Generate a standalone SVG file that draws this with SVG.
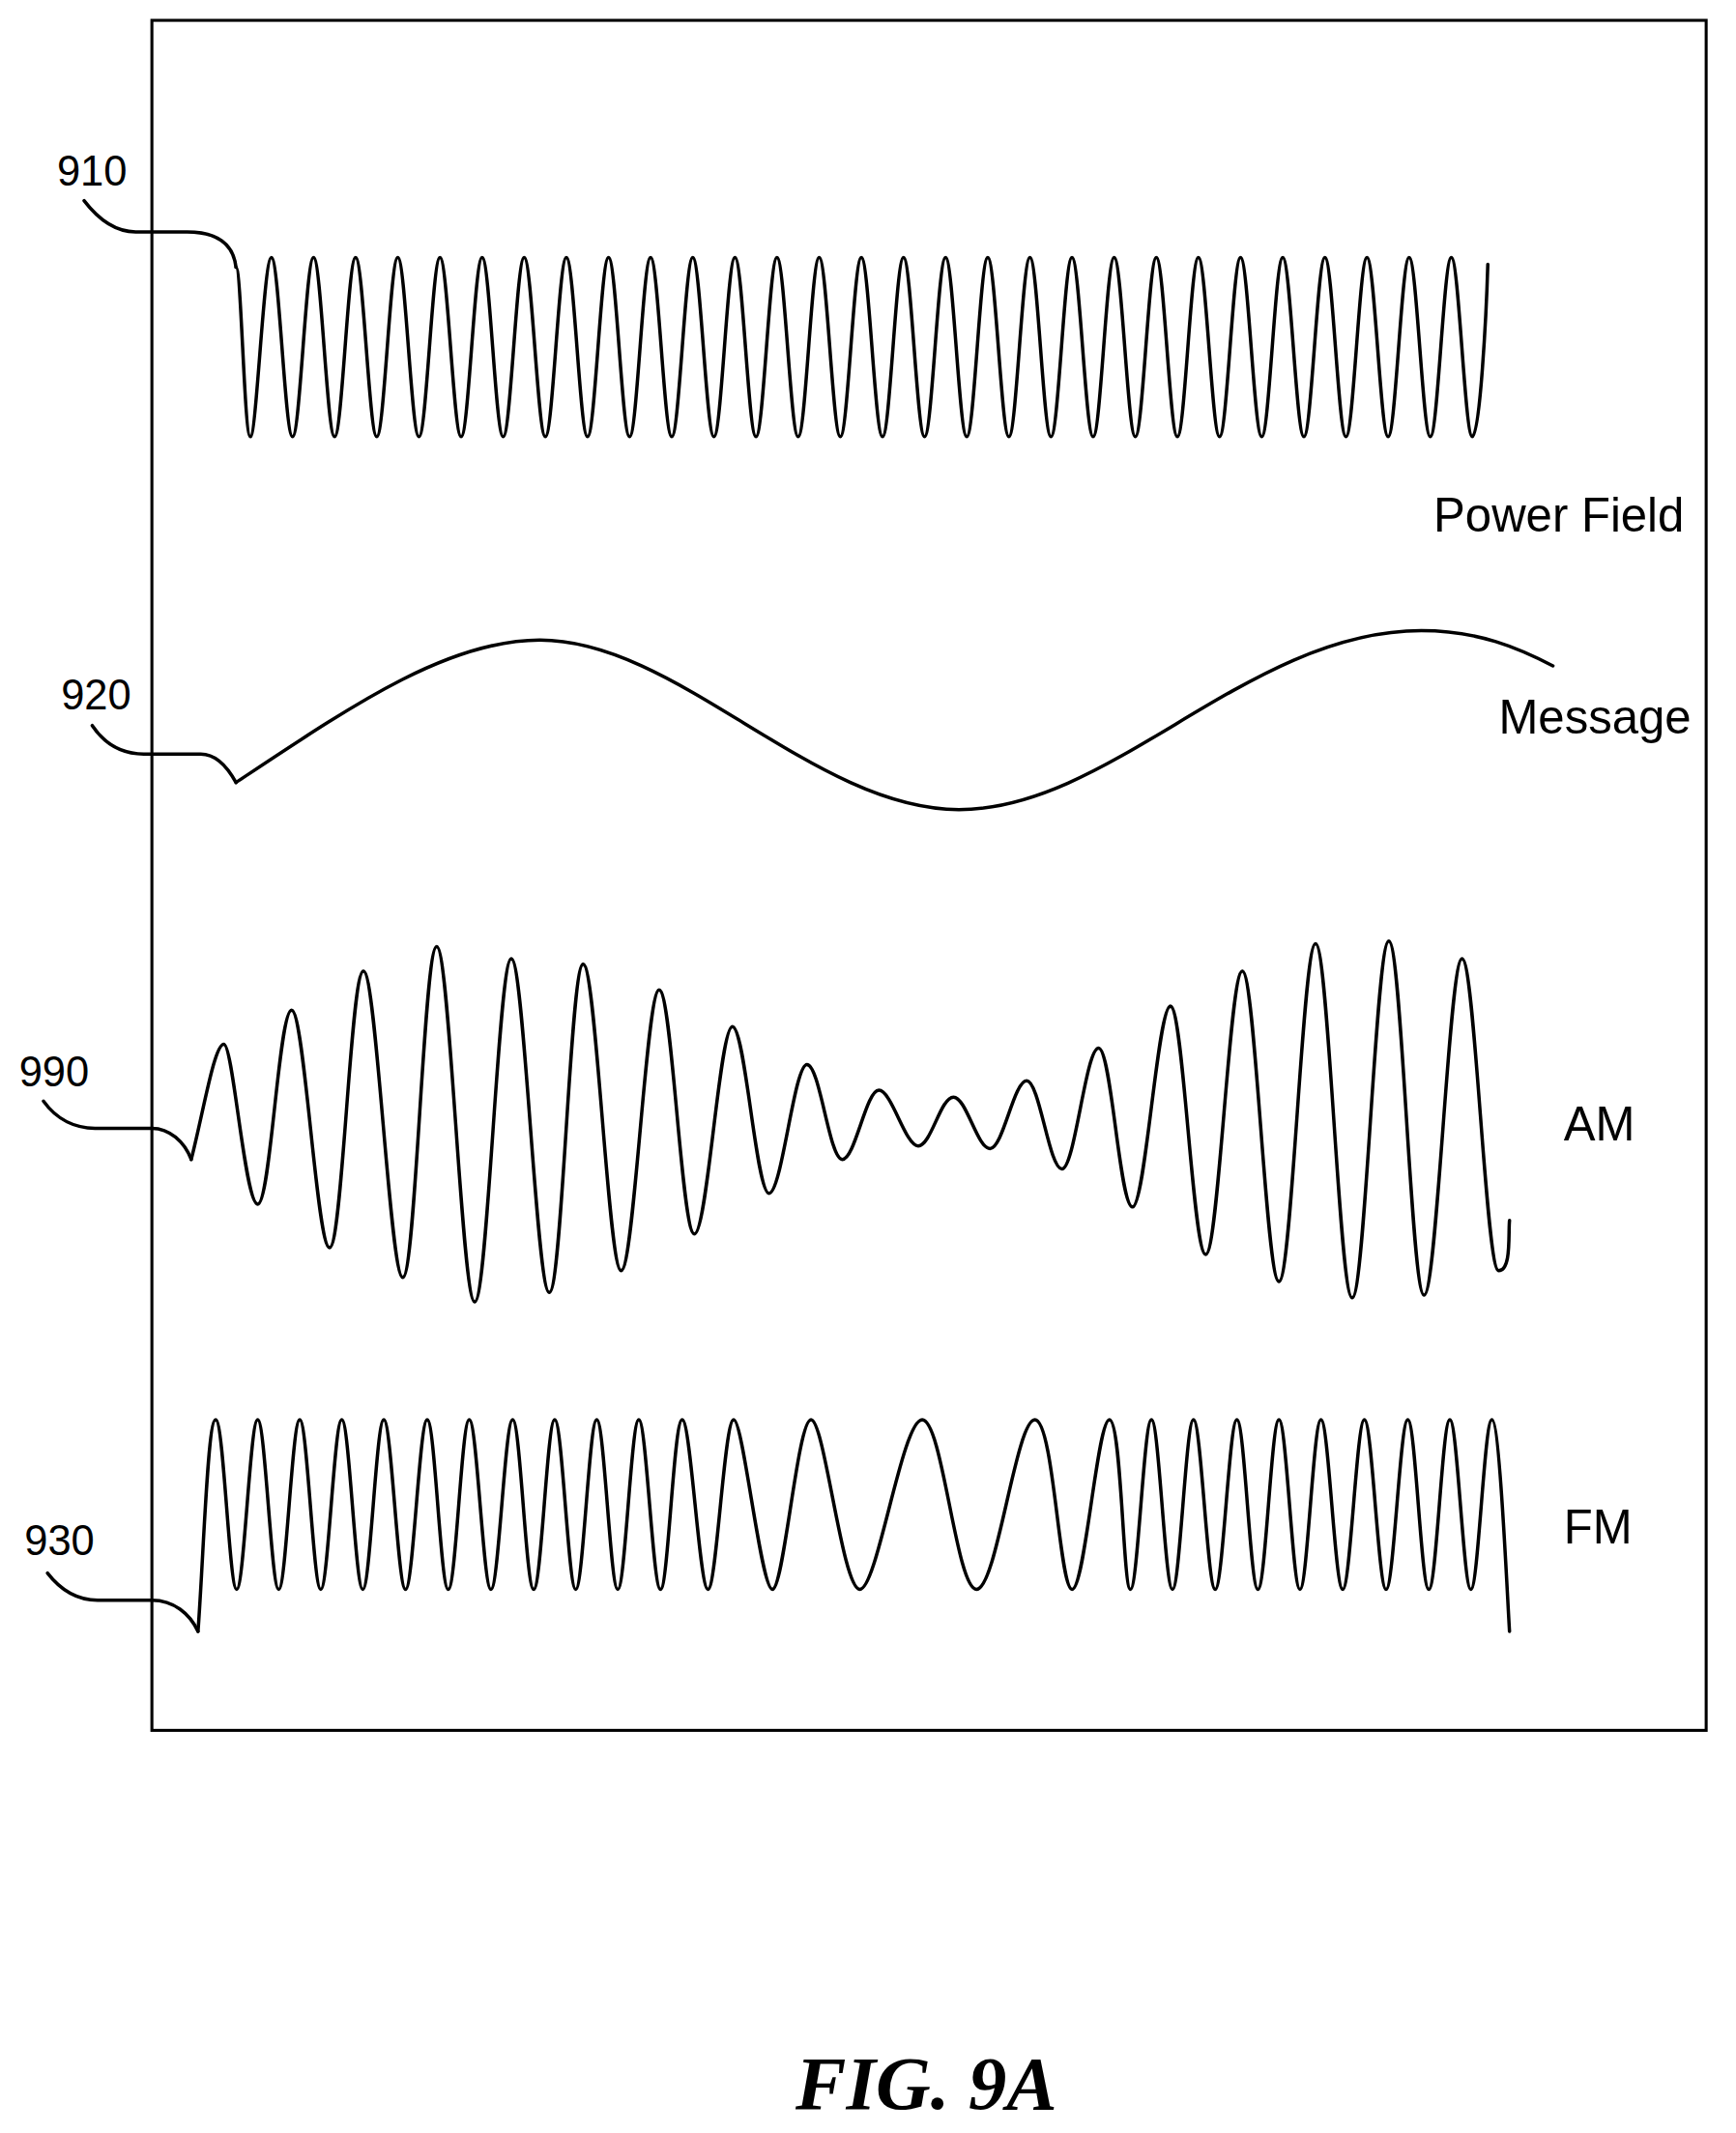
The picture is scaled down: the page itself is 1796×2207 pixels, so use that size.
<svg xmlns="http://www.w3.org/2000/svg" width="1796" height="2207" viewBox="0 0 1796 2207">
<style>
.w{fill:none;stroke:#000;stroke-width:2.5;stroke-linejoin:round;stroke-linecap:round}
.t{font-family:"Liberation Sans",Arial,sans-serif;font-size:31px;fill:#000}
.l{font-family:"Liberation Sans",Arial,sans-serif;font-size:35px;fill:#000}
</style>
<rect width="1796" height="2207" fill="#fff"/>
<g transform="scale(1.40313)">
<rect id="frame" x="112" y="15" width="1146" height="1261" fill="none" stroke="#000" stroke-width="2.2"/>
<g id="connectors">
<path class="w" d="M62 148 C75 165 88 171 100 171 L138 171 C160 171 172 180 174 197"/>
<path class="w" d="M68 535 C78 550 92 556 106 556 L148 556 C160 556 168 566 174 577"/>
<path class="w" d="M32 812 C42 826 56 832 70 832 L112 832 C125 832 136 842 141 855"/>
<path class="w" d="M35 1160 C45 1173 58 1180 72 1180 L112 1180 C128 1180 140 1190 146 1203"/>
</g>
<g id="n910">
<text class="t" x="42" y="137">910</text>
<path class="w" d="M174 197 C178 197 180 322 184.6 322 S194.5 190 200.1 190 S210.1 322 215.7 322 S225.6 190 231.2 190 S241.1 322 246.7 322 S256.6 190 262.2 190 S272.2 322 277.8 322 S287.7 190 293.3 190 S303.3 322 308.9 322 S318.8 190 324.4 190 S334.4 322 340 322 S349.9 190 355.5 190 S365.4 322 371 322 S380.9 190 386.5 190 S396.5 322 402.1 322 S412 190 417.6 190 S427.6 322 433.2 322 S443.1 190 448.7 190 S458.6 322 464.2 322 S474.1 190 479.7 190 S489.7 322 495.3 322 S505.2 190 510.8 190 S520.8 322 526.4 322 S536.3 190 541.9 190 S551.8 322 557.4 322 S567.3 190 572.9 190 S582.9 322 588.5 322 S598.4 190 604 190 S614 322 619.6 322 S629.5 190 635.1 190 S645.1 322 650.7 322 S660.6 190 666.2 190 S676.1 322 681.7 322 S691.6 190 697.2 190 S707.2 322 712.8 322 S722.7 190 728.3 190 S738.3 322 743.9 322 S753.8 190 759.4 190 S769.3 322 774.9 322 S784.8 190 790.4 190 S800.4 322 806 322 S815.9 190 821.5 190 S831.5 322 837.1 322 S847 190 852.6 190 S862.5 322 868.1 322 S878 190 883.6 190 S893.6 322 899.2 322 S909.1 190 914.7 190 S924.7 322 930.3 322 S940.2 190 945.8 190 S955.8 322 961.4 322 S971.3 190 976.9 190 S986.8 322 992.4 322 S1002.3 190 1007.9 190 S1017.9 322 1023.5 322 S1033.4 190 1039 190 S1049 322 1054.6 322 S1064.5 190 1070.1 190 S1080 322 1085.6 322 S1096 230 1097 195"/>
<text class="l" x="1057" y="392">Power Field</text>
</g>
<g id="n920">
<text class="t" x="45" y="523">920</text>
<path class="w" d="M174 577 C260 520 330 472 398 472 C500 472 600 597 707 597 C820 597 920 465 1048 465 C1090 465 1120 478 1145 491"/>
<text class="l" x="1105" y="541">Message</text>
</g>
<g id="n990">
<text class="t" x="14" y="801">990</text>
<path class="w" d="M141 855 C150 820 158 770 165 770 S180.5 888 190 888 S205.5 745 215 745 S233.5 920 243 920 S258.5 716 268 716 S287.5 942 297 942 S312.5 698 322 698 S340.5 960 350 960 S367.5 707 377 707 S395.5 953 405 953 S420.5 711 430 711 S448.5 937 458 937 S476.5 730 486 730 S502.5 910 512 910 S530.5 757 540 757 S557.5 880 567 880 S585.5 785 595 785 S611.5 855 621 855 S638.5 804 648 804 S667.5 845 677 845 S693.5 809 703 809 S720.5 847 730 847 S747.5 797 757 797 S773.5 862 783 862 S800.5 773 810 773 S825.5 890 835 890 S853.5 742 863 742 S879.5 925 889 925 S906.5 716 916 716 S933.5 945 943 945 S960.5 696 970 696 S987.5 957 997 957 S1014.5 694 1024 694 S1040.5 955 1050 955 S1068.5 707 1078 707 S1095.5 937 1105 937 S1112 910 1113 900"/>
<text class="l" x="1153" y="841">AM</text>
</g>
<g id="n930">
<text class="t" x="18" y="1147">930</text>
<path class="w" d="M146 1203 C150 1150 153 1047 159 1047 S169 1172 174.5 1172 S184.4 1047 190 1047 S200 1172 205.5 1172 S215.4 1047 221 1047 S231 1172 236.5 1172 S246.4 1047 252 1047 S262 1172 267.5 1172 S277.4 1047 283 1047 S293.3 1172 299 1172 S309.3 1047 315 1047 S324.8 1172 330.5 1172 S340.3 1047 346 1047 S356.3 1172 362 1172 S372.3 1047 378 1047 S387.8 1172 393.5 1172 S403.4 1047 409 1047 S419 1172 424.5 1172 S434.4 1047 440 1047 S450 1172 455.5 1172 S465.4 1047 471 1047 S481.3 1172 487 1172 S496.7 1047 503 1047 S515.7 1172 522 1172 S534 1047 541 1047 S561 1172 569.5 1172 S588 1047 598 1047 S621 1172 634 1172 S665 1047 680 1047 S705 1172 720 1172 S749 1047 763 1047 S781 1172 790.5 1172 S809 1047 818 1047 S828 1172 833.5 1172 S843.4 1047 849 1047 S859 1172 864.5 1172 S874.4 1047 880 1047 S890.3 1172 896 1172 S906.3 1047 912 1047 S921.8 1172 927.5 1172 S937.4 1047 943 1047 S953 1172 958.5 1172 S968.4 1047 974 1047 S984.3 1172 990 1172 S1000.3 1047 1006 1047 S1016.3 1172 1022 1172 S1032.3 1047 1038 1047 S1047.8 1172 1053.5 1172 S1063.4 1047 1069 1047 S1079 1172 1084.5 1172 S1094.4 1047 1100 1047 S1111 1170 1113 1203"/>
<text class="l" x="1153" y="1138">FM</text>
</g>
<text x="683" y="1555" text-anchor="middle" font-family="'Liberation Serif','Times New Roman',serif" font-size="56" font-weight="bold" font-style="italic">FIG. 9A</text>
</g>
</svg>
